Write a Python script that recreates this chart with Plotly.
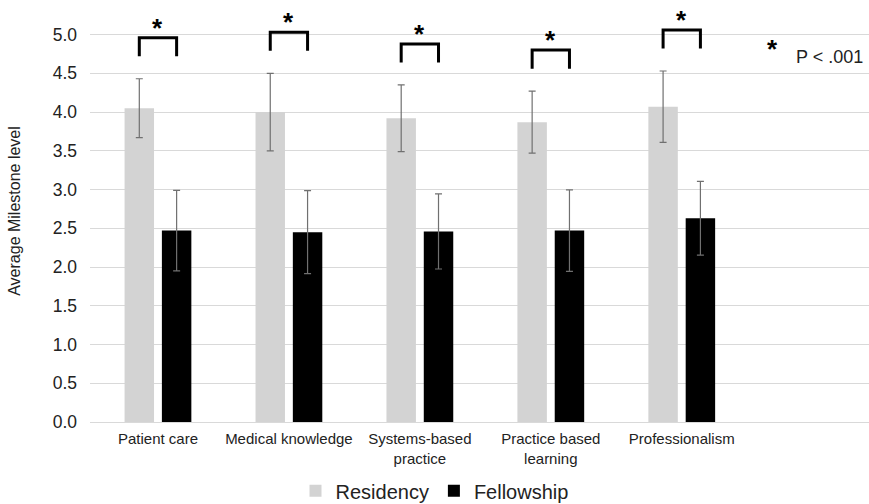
import plotly.graph_objects as go

categories = ["Patient care", "Medical knowledge", "Systems-based<br>practice",
              "Practice based<br>learning", "Professionalism"]
residency_mean = [4.05, 4.00, 3.92, 3.87, 4.07]
residency_sd = [0.38, 0.50, 0.43, 0.40, 0.46]
fellowship_mean = [2.47, 2.45, 2.46, 2.47, 2.63]
fellowship_sd = [0.52, 0.535, 0.485, 0.525, 0.475]
y_ticks = [0.0, 0.5, 1.0, 1.5, 2.0, 2.5, 3.0, 3.5, 4.0, 4.5, 5.0]

FONT = "Liberation Sans, Arial, sans-serif"
xpos = list(range(len(categories)))
BAR_W = 0.225
GAP = 0.03
ERR_COLOR = "#707070"

fig = go.Figure()
fig.add_trace(go.Bar(
    name="Residency", x=xpos, y=residency_mean, width=BAR_W, offset=-(BAR_W + GAP),
    marker=dict(color="#d3d3d3", line=dict(width=0)),
    error_y=dict(type="data", array=residency_sd, visible=True, color=ERR_COLOR,
                 thickness=1.2, width=3.5),
))
fig.add_trace(go.Bar(
    name="Fellowship", x=xpos, y=fellowship_mean, width=BAR_W, offset=GAP,
    marker=dict(color="#000000", line=dict(width=0)),
    error_y=dict(type="data", array=fellowship_sd, visible=True, color=ERR_COLOR,
                 thickness=1.2, width=3.5),
))

# significance brackets derived from residency upper error bar
half = BAR_W / 2 + GAP
for i, (m, s) in enumerate(zip(residency_mean, residency_sd)):
    yb = m + s + 0.29
    yt = yb + 0.24
    x0, x1 = i - half, i + half
    fig.add_shape(type="path", xref="x", yref="y",
                  path=f"M {x0},{yb} L {x0},{yt} L {x1},{yt} L {x1},{yb}",
                  line=dict(color="black", width=3))
    fig.add_annotation(x=i, y=yt, xref="x", yref="y", text="<b>*</b>", showarrow=False,
                       font=dict(family=FONT, size=26, color="black"),
                       yanchor="middle", yshift=10)

fig.add_annotation(x=0.876, y=0.885, xref="paper", yref="paper", text="<b>*</b>",
                   showarrow=False, font=dict(family=FONT, size=26, color="black"),
                   xanchor="center", yanchor="middle")
fig.add_annotation(x=0.995, y=0.866, xref="paper", yref="paper", text="P < .001",
                   showarrow=False, font=dict(family=FONT, size=18, color="#222"),
                   xanchor="right", yanchor="middle")

fig.update_layout(
    width=869, height=504,
    margin=dict(l=90, r=0, t=0, b=82, autoexpand=False),
    plot_bgcolor="white", paper_bgcolor="white",
    barmode="overlay",
    font=dict(family=FONT, color="#333"),
    showlegend=True,
    legend=dict(orientation="h", xref="container", yref="paper",
                x=0.5, xanchor="center", y=-0.163, yanchor="middle",
                font=dict(family=FONT, size=20, color="#222"),
                itemwidth=30),
    xaxis=dict(range=[-0.519, 5.43], tickvals=xpos, ticktext=categories,
               showgrid=False, zeroline=False, showline=False, ticks="",
               ticklabelstandoff=6,
               tickfont=dict(family=FONT, size=15, color="#222")),
    yaxis=dict(range=[0, 422 / 77.48], tickvals=y_ticks, tickformat=".1f",
               showgrid=True, gridcolor="#d9d9d9", gridwidth=1,
               zeroline=True, zerolinecolor="#d9d9d9", zerolinewidth=1,
               showline=False, ticks="", ticklabelstandoff=12,
               tickfont=dict(family=FONT, size=17.5, color="#222"),
               title=dict(text="Average Milestone level", standoff=28,
                          font=dict(family=FONT, size=16, color="#222"))),
)

fig.write_html("out.html", config={"displayModeBar": False},
               post_script="document.body.style.margin='0';document.body.style.overflow='hidden';")
